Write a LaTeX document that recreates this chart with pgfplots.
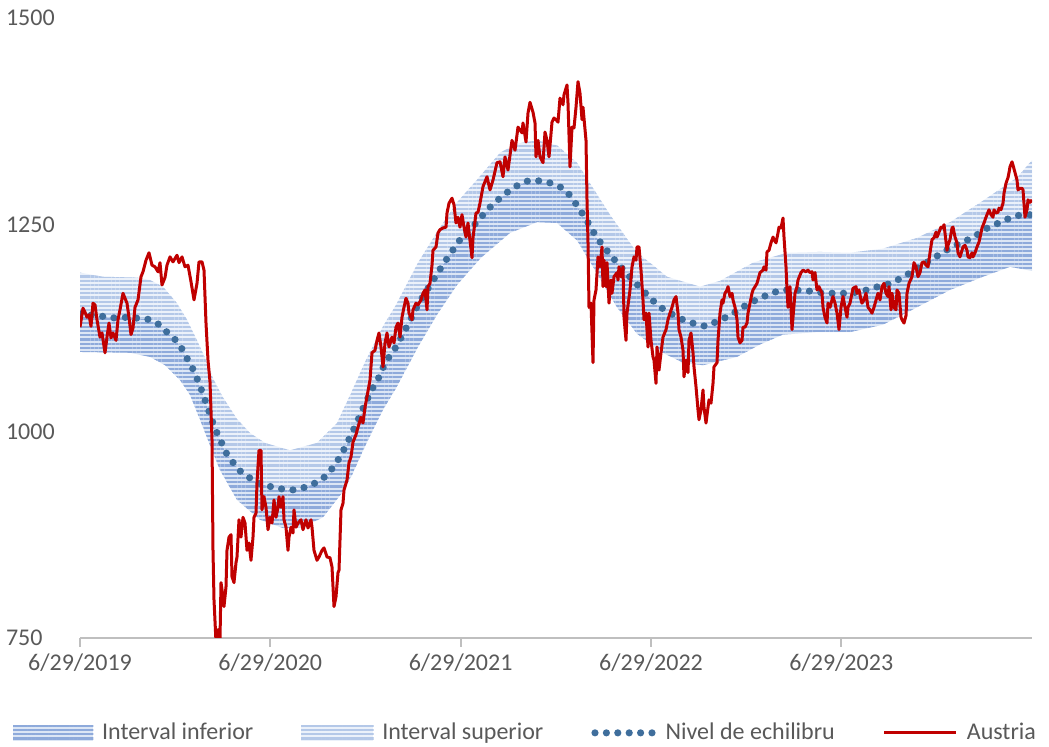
\documentclass[border=0pt]{standalone}
\usepackage{pgfplots}
\pgfplotsset{compat=1.18}
\usepgfplotslibrary{fillbetween}
\usetikzlibrary{patterns.meta}
\usepackage{fontspec}
\setmainfont{Carlito}

\definecolor{austria}{HTML}{C00000}
\definecolor{eqdot}{HTML}{3F6E9C}
\definecolor{lostripe}{HTML}{8EAADB}
\definecolor{lobg}{HTML}{DCE6F5}
\definecolor{upstripe}{HTML}{B4C8E8}
\definecolor{upbg}{HTML}{EBF1FA}
\definecolor{txt}{HTML}{595959}
\definecolor{axisgray}{HTML}{BFBFBF}

% time axis: 0 = 6/29/2019, about 190.4 units per year
\begin{document}
\begin{tikzpicture}
\begin{axis}[
    scale only axis, width=476pt, height=310pt,
    xmin=0, xmax=952, ymin=750, ymax=1500,
    axis x line*=bottom, axis y line*=left,
    y axis line style={draw=none},
    x axis line style={axisgray, line width=1pt},
    xtick={0,190.3,380.6,571,761.3},
    xticklabels={6/29/2019,6/29/2020,6/29/2021,6/29/2022,6/29/2023},
    ytick={750,1000,1250,1500},
    yticklabels={750,1000,1250,1500},
    ytick style={draw=none},
    xtick style={axisgray, line width=1pt},
    tick align=outside, major tick length=4.5pt,
    ticklabel style={font=\fontsize{12}{14}\selectfont, text=txt},
    yticklabel style={anchor=west, xshift=-36pt},
    legend columns=4,
    legend style={draw=none, fill=none, at={(0.469,-0.153)}, anchor=center,
        font=\fontsize{12}{14}\selectfont, text=txt,
        /tikz/every odd column/.append style={column sep=2.5pt},
        /tikz/every even column/.append style={column sep=22pt}},
    legend cell align=left,
]
\addplot[name path=up, draw=none, forget plot] coordinates {
(0,1192)(23,1187)(57,1186)(70,1183)(83,1175)(97,1155)(107,1135)(117,1110)(125,1089)(133,1064)(143,1041)(157,1015)(170,998)(185,986)(210,977)(237,986)(257,1010)(272,1049)(287,1089)(303,1127)(316,1153)(338,1204)(357,1241)(377,1277)(401,1310)(420,1337)(437,1348)(457,1352)(477,1346)(497,1325)(510,1300)(530,1262)(557,1216)(573,1201)(587,1187)(620,1175)(640,1182)(673,1204)(707,1216)(740,1217)(770,1216)(803,1221)(837,1234)(870,1253)(903,1279)(937,1307)(952,1328)
};
\addplot[name path=lo, draw=none, forget plot] coordinates {
(0,1096)(50,1095)(70,1090)(85,1080)(100,1062)(110,1044)(120,1014)(130,983)(140,953)(157,917)(180,893)(203,883)(223,884)(243,896)(263,927)(272,947)(287,987)(303,1026)(316,1052)(338,1102)(357,1141)(377,1177)(401,1210)(430,1240)(457,1253)(477,1252)(497,1231)(513,1199)(537,1150)(557,1118)(583,1095)(603,1083)(623,1080)(657,1090)(680,1105)(703,1117)(737,1120)(770,1120)(803,1129)(837,1150)(870,1171)(903,1187)(930,1199)(952,1194)
};
\addplot[name path=eqp, draw=none, forget plot] coordinates {
(0,1142)(19,1140)(31,1137)(43,1138)(56,1137)(67,1136)(78,1130)(87,1120)(96,1110)(103,1098)(108,1086)(114,1073)(119,1058)(123,1045)(127,1031)(131,1017)(135,1003)(140,991)(145,976)(152,964)(159,953)(168,945)(179,937)(191,933)(203,930)(215,929)(227,933)(238,939)(247,947)(254,958)(261,971)(266,983)(272,998)(277,1011)(282,1025)(287,1038)(292,1051)(298,1063)(303,1077)(309,1090)(316,1102)(327,1127)(338,1153)(348,1173)(357,1190)(363,1202)(370,1214)(377,1227)(385,1239)(393,1248)(401,1259)(409,1270)(418,1280)(427,1289)(437,1297)(448,1303)(460,1303)(472,1300)(483,1294)(492,1283)(498,1271)(505,1259)(511,1246)(517,1234)(524,1223)(532,1211)(540,1200)(548,1189)(556,1179)(564,1169)(572,1159)(582,1149)(593,1141)(603,1135)(615,1130)(626,1127)(637,1133)(648,1139)(659,1147)(669,1155)(680,1161)(691,1167)(702,1171)(714,1171)(727,1170)(739,1168)(752,1167)(763,1167)(775,1168)(787,1171)(798,1175)(811,1179)(822,1186)(832,1193)(842,1201)(852,1208)(862,1216)(872,1223)(883,1229)(894,1235)(904,1244)(915,1250)(926,1256)(937,1261)(949,1262)(952,1262)
};

\addplot[draw=none, fill=lobg,
    postaction={pattern={Lines[angle=0,distance=2.1pt,line width=1.1pt]}, pattern color=lostripe},
    legend image code/.code={
        \fill[lobg] (0pt,-4pt) rectangle (40pt,4pt);
        \fill[pattern={Lines[angle=0,distance=2.1pt,line width=1.1pt]}, pattern color=lostripe] (0pt,-4pt) rectangle (40pt,4pt);}]
    fill between[of=lo and eqp];
\addlegendentry{Interval inferior}

\addplot[draw=none, fill=upbg,
    postaction={pattern={Lines[angle=0,distance=2.1pt,line width=1.1pt]}, pattern color=upstripe},
    legend image code/.code={
        \fill[upbg] (0pt,-4pt) rectangle (36pt,4pt);
        \fill[pattern={Lines[angle=0,distance=2.1pt,line width=1.1pt]}, pattern color=upstripe] (0pt,-4pt) rectangle (36pt,4pt);}]
    fill between[of=eqp and up];
\addlegendentry{Interval superior}

\addplot[eqdot, line width=3.6pt, line cap=round, dash pattern=on 0pt off 5.7pt,
    legend image code/.code={
        \draw[eqdot, line width=3.6pt, line cap=round, dash pattern=on 0pt off 5.7pt] (2pt,0pt) -- (31pt,0pt);}]
coordinates {
(0,1142)(19,1140)(31,1137)(43,1138)(56,1137)(67,1136)(78,1130)(87,1120)(96,1110)(103,1098)(108,1086)(114,1073)(119,1058)(123,1045)(127,1031)(131,1017)(135,1003)(140,991)(145,976)(152,964)(159,953)(168,945)(179,937)(191,933)(203,930)(215,929)(227,933)(238,939)(247,947)(254,958)(261,971)(266,983)(272,998)(277,1011)(282,1025)(287,1038)(292,1051)(298,1063)(303,1077)(309,1090)(316,1102)(327,1127)(338,1153)(348,1173)(357,1190)(363,1202)(370,1214)(377,1227)(385,1239)(393,1248)(401,1259)(409,1270)(418,1280)(427,1289)(437,1297)(448,1303)(460,1303)(472,1300)(483,1294)(492,1283)(498,1271)(505,1259)(511,1246)(517,1234)(524,1223)(532,1211)(540,1200)(548,1189)(556,1179)(564,1169)(572,1159)(582,1149)(593,1141)(603,1135)(615,1130)(626,1127)(637,1133)(648,1139)(659,1147)(669,1155)(680,1161)(691,1167)(702,1171)(714,1171)(727,1170)(739,1168)(752,1167)(763,1167)(775,1168)(787,1171)(798,1175)(811,1179)(822,1186)(832,1193)(842,1201)(852,1208)(862,1216)(872,1223)(883,1229)(894,1235)(904,1244)(915,1250)(926,1256)(937,1261)(949,1262)(952,1262)
};
\addlegendentry{Nivel de echilibru}

\addplot[austria, line width=1.5pt, line join=round,
    legend image code/.code={\draw[austria, line width=1.5pt] (0pt,0pt) -- (36pt,0pt);}]
coordinates {
(0,1126)(3,1149)(5,1144)(7,1138)(9,1141)(11,1127)(13,1155)(15,1153)(17,1135)(20,1114)(22,1119)(25,1095)(27,1114)(29,1131)(31,1113)(33,1119)(36,1110)(38,1135)(40,1147)(43,1167)(47,1155)(49,1138)(51,1117)(53,1125)(55,1150)(58,1159)(61,1187)(63,1193)(66,1207)(69,1216)(72,1201)(75,1199)(78,1193)(80,1204)(82,1177)(85,1186)(87,1201)(90,1211)(93,1205)(97,1213)(99,1204)(102,1211)(105,1199)(108,1201)(111,1181)(114,1159)(117,1179)(119,1205)(122,1205)(124,1195)(126,1131)(128,1086)(130,1060)(132,990)(133,856)(134,796)(136,745)(138,760)(140,748)(141,817)(143,800)(144,788)(146,812)(147,856)(149,872)(151,875)(152,824)(154,817)(156,841)(157,848)(159,893)(161,872)(163,896)(165,889)(167,856)(169,865)(171,844)(173,872)(174,896)(176,901)(177,938)(179,977)(181,977)(182,905)(184,921)(186,908)(188,881)(190,896)(192,889)(194,917)(196,896)(198,908)(199,921)(201,908)(203,921)(204,893)(206,884)(208,856)(209,872)(211,884)(213,877)(214,905)(216,884)(218,889)(221,893)(223,881)(226,893)(228,883)(231,893)(232,884)(234,856)(237,844)(239,848)(242,856)(244,859)(247,848)(250,847)(252,836)(254,788)(256,800)(258,829)(259,832)(261,905)(263,913)(264,929)(267,941)(269,962)(271,969)(273,987)(276,996)(278,1005)(281,1017)(283,1010)(285,1029)(287,1042)(290,1062)(292,1095)(295,1098)(297,1110)(299,1119)(301,1102)(303,1078)(305,1107)(307,1119)(309,1102)(312,1114)(314,1107)(316,1126)(318,1131)(320,1114)(322,1138)(324,1150)(326,1161)(328,1155)(329,1143)(332,1135)(333,1147)(336,1155)(338,1153)(341,1159)(343,1167)(345,1171)(347,1147)(348,1175)(350,1179)(352,1201)(353,1219)(356,1223)(358,1240)(360,1244)(363,1246)(366,1247)(367,1264)(369,1276)(372,1282)(374,1274)(376,1252)(378,1259)(380,1247)(382,1262)(384,1247)(386,1235)(388,1252)(389,1241)(392,1210)(393,1234)(396,1264)(398,1265)(400,1276)(403,1296)(407,1308)(410,1292)(413,1304)(417,1325)(420,1326)(423,1308)(425,1332)(428,1316)(432,1352)(435,1340)(438,1368)(442,1361)(443,1373)(446,1350)(448,1385)(450,1398)(453,1386)(455,1373)(456,1332)(458,1352)(460,1332)(463,1325)(465,1362)(467,1352)(469,1332)(472,1374)(474,1379)(476,1377)(478,1374)(480,1403)(483,1395)(484,1407)(487,1419)(488,1397)(490,1320)(492,1368)(494,1367)(496,1392)(498,1423)(500,1409)(502,1377)(503,1392)(506,1352)(507,1280)(508,1228)(509,1150)(511,1155)(513,1083)(514,1159)(516,1171)(518,1211)(520,1199)(522,1223)(523,1175)(524,1207)(526,1175)(527,1204)(529,1155)(531,1183)(532,1167)(534,1187)(537,1192)(538,1183)(539,1199)(541,1187)(543,1199)(544,1138)(546,1110)(547,1143)(550,1171)(552,1199)(554,1211)(556,1207)(557,1223)(559,1223)(561,1195)(563,1159)(564,1135)(566,1143)(568,1102)(569,1143)(571,1110)(573,1090)(574,1086)(576,1058)(577,1102)(579,1074)(581,1095)(583,1114)(586,1123)(588,1135)(590,1143)(592,1150)(594,1159)(596,1163)(598,1143)(599,1123)(601,1114)(603,1098)(604,1066)(606,1086)(608,1071)(609,1110)(611,1119)(613,1095)(614,1078)(616,1054)(618,1026)(619,1014)(621,1026)(623,1050)(624,1029)(626,1010)(628,1029)(629,1038)(631,1034)(633,1058)(634,1078)(637,1083)(638,1110)(640,1143)(642,1159)(643,1155)(645,1167)(647,1171)(648,1175)(650,1163)(652,1167)(653,1159)(655,1150)(657,1135)(658,1114)(660,1107)(662,1110)(663,1126)(665,1126)(667,1131)(668,1143)(670,1155)(672,1167)(673,1171)(675,1175)(677,1179)(680,1192)(683,1195)(684,1199)(686,1195)(687,1217)(689,1219)(691,1228)(693,1235)(694,1232)(696,1228)(698,1240)(699,1247)(701,1246)(703,1258)(704,1235)(706,1199)(707,1171)(708,1150)(710,1175)(712,1123)(713,1138)(715,1167)(717,1175)(718,1183)(721,1192)(723,1195)(726,1193)(728,1195)(730,1192)(732,1193)(733,1183)(735,1192)(737,1171)(739,1175)(742,1167)(743,1150)(745,1138)(747,1131)(748,1155)(750,1150)(752,1159)(753,1163)(755,1155)(757,1143)(759,1123)(761,1150)(763,1163)(765,1150)(767,1138)(768,1150)(770,1155)(772,1167)(773,1173)(776,1175)(777,1167)(779,1171)(781,1159)(782,1155)(784,1159)(786,1167)(788,1150)(790,1147)(792,1143)(794,1150)(797,1163)(798,1167)(800,1159)(802,1175)(804,1179)(806,1167)(808,1163)(809,1175)(811,1147)(812,1167)(814,1150)(816,1147)(817,1171)(819,1167)(821,1138)(822,1135)(824,1131)(826,1140)(827,1167)(829,1179)(832,1187)(834,1204)(836,1199)(838,1187)(840,1192)(842,1204)(844,1205)(846,1201)(848,1199)(850,1216)(852,1232)(854,1234)(856,1241)(857,1235)(859,1241)(861,1247)(863,1246)(864,1250)(867,1219)(868,1225)(870,1232)(872,1246)(873,1247)(875,1235)(877,1228)(878,1216)(880,1211)(882,1219)(883,1223)(885,1225)(887,1219)(888,1211)(890,1210)(892,1216)(893,1211)(895,1216)(897,1223)(899,1229)(901,1240)(902,1246)(904,1252)(906,1259)(908,1265)(909,1268)(911,1262)(913,1259)(914,1268)(916,1264)(918,1265)(919,1270)(921,1268)(923,1276)(924,1288)(926,1300)(928,1307)(929,1313)(930,1320)(932,1326)(933,1322)(935,1313)(937,1304)(938,1292)(940,1294)(942,1294)(943,1292)(945,1259)(947,1268)(948,1280)(950,1277)(952,1280)
};
\addlegendentry{Austria}
\end{axis}
\pgfresetboundingbox
\path[use as bounding box] (-40pt,-54.5pt) rectangle (484.5pt,319pt);
\end{tikzpicture}
\end{document}
